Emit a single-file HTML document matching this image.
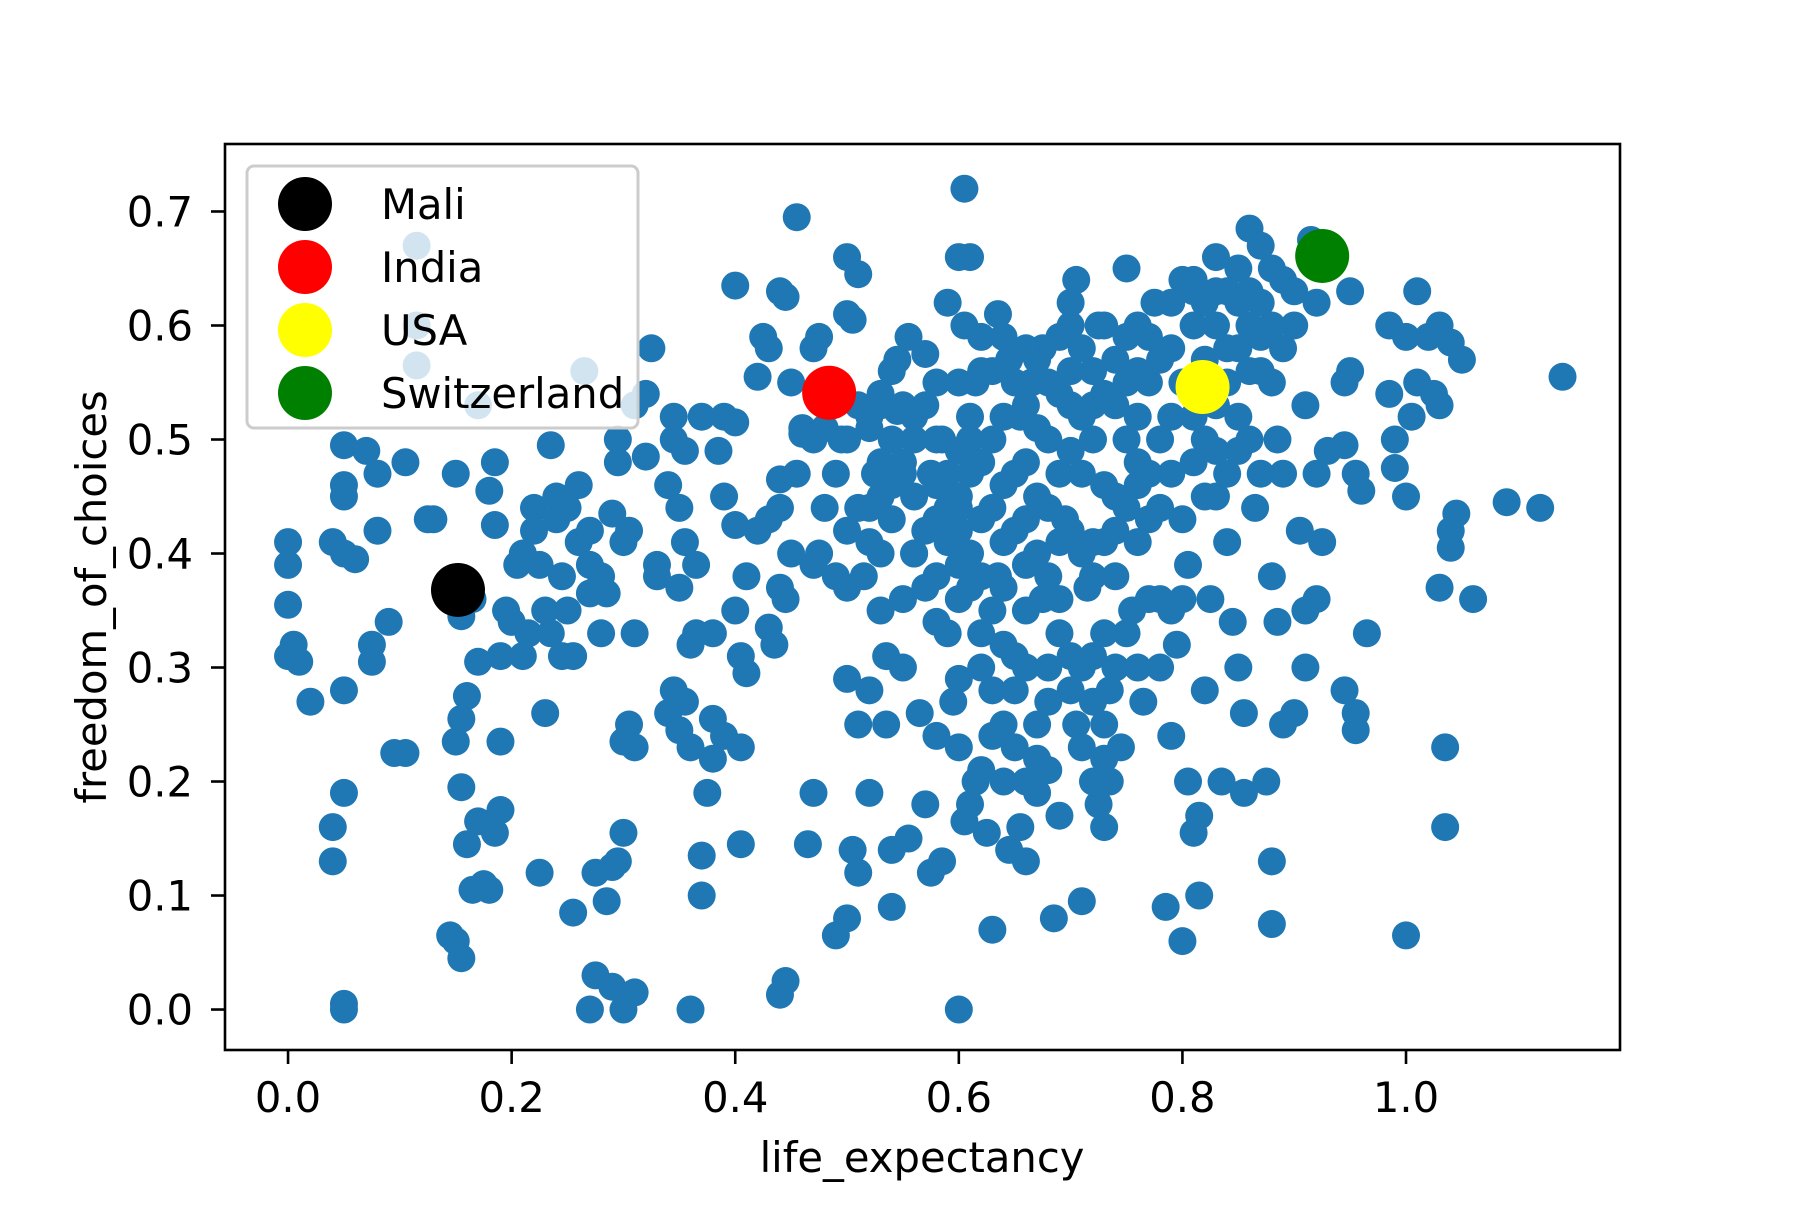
<!DOCTYPE html>
<html><head><meta charset="utf-8"><style>
html,body{margin:0;padding:0;background:#fff}
svg text{font-family:"DejaVu Sans","Liberation Sans",sans-serif;fill:#000}
</style></head><body>
<svg id="chart" width="1800" height="1200" viewBox="0 0 1800 1200" xmlns="http://www.w3.org/2000/svg">
<rect width="1800" height="1200" fill="#fff"/>
<g id="points"></g>
<g id="highlights"></g>
<rect x="225" y="144" width="1395" height="906" fill="none" stroke="#000" stroke-width="2.6"/>
<g id="xticks"></g>
<g id="yticks"></g>
<text x="922" y="1172" font-size="41.7" text-anchor="middle">life_expectancy</text>
<text x="0" y="0" font-size="41.7" text-anchor="middle" transform="translate(106,597) rotate(-90)">freedom_of_choices</text>
<g id="legend"></g>
</svg>
<script>
const xTicks=[0,0.2,0.4,0.6,0.8,1.0];
const xTickLabels=["0.0","0.2","0.4","0.6","0.8","1.0"];
const yTicks=[0,0.1,0.2,0.3,0.4,0.5,0.6,0.7];
const yTickLabels=["0.0","0.1","0.2","0.3","0.4","0.5","0.6","0.7"];
const countryNames=["Mali","India","USA","Switzerland"];
const countryColors=["#000000","#ff0000","#ffff00","#008000"];
const countryX=[0.152,0.484,0.818,0.925];
const countryY=[0.368,0.541,0.546,0.661];
const lifeExp=[0,0,0,0,0.005,0.01,0.02,0.04,0.04,0.04,0.05,0.05,0.05,0.05,0.05,0.05,0.05,0.05,0.06,0.07,0.08,0.08,0.075,0.075,0.09,0.095,0.105,0.105,0.115,0.115,0.115,0.125,0.13,0.145,0.15,0.155,0.15,0.155,0.16,0.155,0.16,0.165,0.17,0.175,0.18,0.185,0.19,0.15,0.155,0.165,0.17,0.17,0.18,0.185,0.185,0.19,0.19,0.195,0.2,0.205,0.21,0.21,0.215,0.22,0.22,0.225,0.225,0.23,0.23,0.235,0.235,0.24,0.24,0.245,0.245,0.25,0.25,0.255,0.255,0.26,0.26,0.265,0.27,0.27,0.27,0.27,0.275,0.275,0.28,0.28,0.285,0.285,0.29,0.29,0.29,0.295,0.295,0.295,0.3,0.3,0.3,0.3,0.305,0.305,0.31,0.31,0.31,0.31,0.32,0.32,0.325,0.33,0.33,0.34,0.34,0.345,0.345,0.345,0.35,0.35,0.35,0.355,0.355,0.355,0.36,0.36,0.36,0.365,0.365,0.37,0.37,0.37,0.375,0.38,0.38,0.38,0.385,0.39,0.39,0.39,0.4,0.4,0.4,0.4,0.405,0.405,0.405,0.41,0.41,0.42,0.42,0.425,0.43,0.43,0.43,0.435,0.44,0.44,0.44,0.44,0.445,0.44,0.445,0.445,0.45,0.45,0.455,0.455,0.46,0.46,0.465,0.47,0.47,0.47,0.475,0.475,0.48,0.49,0.49,0.495,0.5,0.5,0.5,0.5,0.5,0.5,0.505,0.505,0.51,0.51,0.51,0.51,0.515,0.52,0.52,0.52,0.52,0.525,0.53,0.53,0.53,0.535,0.535,0.54,0.54,0.545,0.545,0.55,0.55,0.55,0.555,0.555,0.56,0.56,0.565,0.57,0.57,0.575,0.575,0.58,0.58,0.58,0.585,0.585,0.59,0.59,0.59,0.595,0.6,0.6,0.6,0.6,0.6,0.605,0.605,0.605,0.61,0.61,0.61,0.615,0.615,0.62,0.62,0.625,0.63,0.63,0.635,0.635,0.64,0.64,0.645,0.645,0.65,0.65,0.655,0.655,0.66,0.66,0.665,0.67,0.67,0.675,0.675,0.68,0.68,0.685,0.69,0.69,0.695,0.7,0.7,0.7,0.705,0.705,0.71,0.71,0.715,0.72,0.72,0.725,0.725,0.73,0.735,0.735,0.74,0.74,0.745,0.75,0.75,0.755,0.76,0.76,0.765,0.77,0.775,0.78,0.785,0.79,0.79,0.795,0.8,0.8,0.8,0.805,0.805,0.81,0.81,0.815,0.815,0.82,0.82,0.825,0.83,0.83,0.83,0.835,0.84,0.84,0.845,0.85,0.85,0.85,0.855,0.855,0.86,0.86,0.865,0.87,0.87,0.875,0.88,0.88,0.88,0.885,0.885,0.89,0.89,0.89,0.9,0.9,0.905,0.91,0.91,0.91,0.915,0.92,0.92,0.92,0.925,0.93,0.945,0.945,0.945,0.95,0.95,0.955,0.955,0.955,0.96,0.965,0.985,0.985,0.99,0.99,1.0,1.0,1.0,1.005,1.01,1.01,1.02,1.025,1.03,1.03,1.03,1.035,1.035,1.04,1.04,1.04,1.045,1.05,1.06,1.09,1.12,1.14,
0.56,0.57,0.58,0.59,0.6,0.61,0.62,0.63,0.64,0.65,0.66,0.67,0.68,0.69,0.7,0.71,0.72,0.73,0.74,0.75,0.76,0.77,0.78,0.79,0.8,0.81,0.82,0.83,0.84,0.85,0.86,0.87,0.88,0.89,0.9,0.88,0.87,0.85,0.82,0.81,0.79,0.78,0.76,0.74,0.73,0.72,0.7,0.69,0.68,0.66,0.65,0.63,0.62,0.64,0.6,0.58,0.57,0.55,0.54,0.53,0.52,0.53,0.54,0.56,0.57,0.58,0.6,0.61,0.62,0.63,0.64,0.66,0.67,0.68,0.69,0.7,0.71,0.72,0.73,0.74,0.75,0.76,0.77,0.78,0.76,0.77,0.79,0.8,0.81,0.82,0.83,0.84,0.85,0.86,0.87,0.88,0.86,0.84,0.83,0.81,0.79,0.77,0.75,0.73,0.71,0.7,0.67,0.66,0.64,0.62,0.61,0.6,0.59,0.6,0.62,0.63,0.64,0.65,0.66,0.67,0.68,0.69,0.7,0.71,0.72,0.73,0.74,0.75,0.76,0.78,0.66,0.67,0.68,0.65,0.63,0.62,0.61,0.73,0.72,0.71,0.72,0.73,0.69,0.66,0.64,0.6,0.58,0.55,0.54,0.52,0.51,0.53,0.54,0.56,0.5,0.49,0.48,0.47];
const freedom=[0.41,0.39,0.355,0.31,0.32,0.305,0.27,0.16,0.13,0.41,0.40,0.495,0.46,0.45,0.28,0.19,0.005,0,0.395,0.49,0.47,0.42,0.32,0.305,0.34,0.225,0.225,0.48,0.67,0.6,0.565,0.43,0.43,0.065,0.06,0.045,0.235,0.255,0.275,0.195,0.145,0.105,0.165,0.11,0.105,0.155,0.175,0.47,0.345,0.36,0.305,0.53,0.455,0.48,0.425,0.31,0.235,0.35,0.34,0.39,0.40,0.31,0.33,0.44,0.42,0.39,0.12,0.26,0.35,0.33,0.495,0.45,0.43,0.38,0.31,0.44,0.35,0.31,0.085,0.46,0.41,0.56,0.42,0.39,0.365,0,0.03,0.12,0.33,0.38,0.365,0.095,0.125,0.02,0.435,0.5,0.48,0.13,0,0.155,0.235,0.41,0.42,0.25,0.23,0.015,0.33,0.53,0.485,0.54,0.58,0.39,0.38,0.26,0.46,0.52,0.5,0.28,0.37,0.245,0.44,0.49,0.41,0.27,0.32,0.23,0,0.39,0.33,0.52,0.1,0.135,0.19,0.33,0.255,0.22,0.49,0.52,0.45,0.24,0.515,0.425,0.635,0.35,0.31,0.23,0.145,0.295,0.38,0.42,0.555,0.59,0.58,0.43,0.335,0.32,0.44,0.37,0.465,0.013,0.025,0.63,0.625,0.36,0.4,0.55,0.695,0.47,0.51,0.505,0.145,0.19,0.39,0.58,0.59,0.40,0.44,0.38,0.065,0.5,0.66,0.61,0.42,0.37,0.29,0.08,0.14,0.605,0.645,0.44,0.25,0.12,0.38,0.41,0.28,0.19,0.52,0.47,0.54,0.45,0.35,0.31,0.25,0.09,0.14,0.525,0.57,0.48,0.36,0.30,0.15,0.59,0.5,0.4,0.26,0.18,0.575,0.47,0.12,0.55,0.38,0.24,0.5,0.13,0.62,0.44,0.33,0.27,0.66,0.42,0.29,0.23,0,0.72,0.6,0.165,0.66,0.52,0.37,0.55,0.2,0.48,0.33,0.155,0.44,0.07,0.61,0.38,0.25,0.2,0.57,0.14,0.47,0.31,0.52,0.16,0.39,0.13,0.55,0.45,0.22,0.58,0.36,0.5,0.27,0.08,0.17,0.59,0.43,0.62,0.53,0.31,0.64,0.25,0.47,0.095,0.37,0.56,0.41,0.6,0.18,0.16,0.28,0.2,0.45,0.38,0.23,0.65,0.55,0.35,0.6,0.48,0.27,0.43,0.62,0.36,0.09,0.52,0.24,0.32,0.64,0.43,0.06,0.39,0.2,0.155,0.6,0.1,0.17,0.5,0.28,0.36,0.63,0.45,0.53,0.2,0.58,0.41,0.34,0.65,0.49,0.3,0.19,0.26,0.685,0.6,0.44,0.67,0.56,0.2,0.38,0.13,0.075,0.5,0.34,0.64,0.47,0.25,0.6,0.26,0.42,0.53,0.3,0.35,0.675,0.62,0.47,0.36,0.41,0.49,0.495,0.28,0.55,0.63,0.56,0.47,0.26,0.245,0.455,0.33,0.6,0.54,0.5,0.475,0.45,0.59,0.065,0.52,0.63,0.55,0.59,0.54,0.6,0.37,0.53,0.23,0.16,0.585,0.42,0.405,0.435,0.57,0.36,0.445,0.44,0.555,
0.45,0.42,0.46,0.41,0.44,0.47,0.43,0.5,0.46,0.42,0.48,0.51,0.44,0.47,0.49,0.52,0.5,0.46,0.53,0.5,0.52,0.55,0.5,0.47,0.55,0.52,0.57,0.6,0.55,0.58,0.63,0.62,0.6,0.58,0.63,0.65,0.59,0.62,0.62,0.63,0.58,0.57,0.56,0.57,0.54,0.53,0.56,0.54,0.55,0.53,0.55,0.56,0.59,0.52,0.55,0.5,0.53,0.53,0.5,0.48,0.44,0.4,0.43,0.4,0.37,0.34,0.36,0.4,0.38,0.35,0.41,0.43,0.4,0.38,0.41,0.42,0.4,0.38,0.41,0.42,0.44,0.46,0.47,0.44,0.41,0.36,0.35,0.36,0.48,0.45,0.49,0.47,0.52,0.5,0.47,0.55,0.56,0.63,0.66,0.64,0.62,0.59,0.59,0.6,0.58,0.6,0.57,0.58,0.59,0.56,0.5,0.49,0.47,0.39,0.3,0.28,0.32,0.28,0.3,0.25,0.3,0.33,0.28,0.3,0.27,0.25,0.3,0.33,0.3,0.3,0.2,0.19,0.21,0.23,0.24,0.21,0.18,0.22,0.2,0.23,0.31,0.33,0.36,0.35,0.37,0.45,0.43,0.47,0.46,0.51,0.53,0.53,0.56,0.52,0.5,0.47,0.51,0.5];
const lightPts=[[0.115,0.67],[0.115,0.6],[0.115,0.565],[0.17,0.53],[0.265,0.56],[0.31,0.53]];

const NS="http://www.w3.org/2000/svg";
const L=225,R=1620,T=144,B=1050;
const xMin=-0.0564,xMax=1.1914,yMin=-0.0355,yMax=0.7592;
function xs(v){return L+(v-xMin)/(xMax-xMin)*(R-L);}
function ys(v){return B-(v-yMin)/(yMax-yMin)*(B-T);}
function mk(tag,attrs,parent){const e=document.createElementNS(NS,tag);for(const k in attrs)e.setAttribute(k,attrs[k]);parent.appendChild(e);return e;}

const pg=document.getElementById('points');
for(let i=0;i<lifeExp.length;i++){
  const c=mk('circle',{cx:xs(lifeExp[i]),cy:ys(freedom[i]),r:14,fill:'#1f77b4'},pg);
  
  
}
const hg=document.getElementById('highlights');
for(let i=0;i<countryNames.length;i++){
  const c=mk('circle',{cx:xs(countryX[i]),cy:ys(countryY[i]),r:27,fill:countryColors[i]},hg);
  
  
}
const xg=document.getElementById('xticks');
for(let i=0;i<xTicks.length;i++){
  const x=xs(xTicks[i]);
  const t=mk('line',{x1:x,x2:x,y1:B,y2:B+14,stroke:'#000','stroke-width':2.6},xg);
  
  
  const s=mk('text',{x:x,y:1112,'font-size':41.7,'text-anchor':'middle'},xg);
  s.textContent=xTickLabels[i];
  
  
}
const yg=document.getElementById('yticks');
for(let i=0;i<yTicks.length;i++){
  const y=ys(yTicks[i]);
  const t=mk('line',{x1:L-14,x2:L,y1:y,y2:y,stroke:'#000','stroke-width':2.6},yg);
  
  
  const s=mk('text',{x:193,y:y+15,'font-size':41.7,'text-anchor':'end'},yg);
  s.textContent=yTickLabels[i];
  
  
}
const lg=document.getElementById('legend');
const box=mk('rect',{x:247,y:166,width:391,height:262,rx:7,fill:'rgba(255,255,255,0.8)',stroke:'#cccccc','stroke-width':3},lg);


for(let i=0;i<countryNames.length;i++){
  const y=204+i*63;
  const c=mk('circle',{cx:305,cy:y,r:27,fill:countryColors[i]},lg);
  
  
  const s=mk('text',{x:381,y:y+15,'font-size':41.7},lg);
  s.textContent=countryNames[i];
  
  
}
</script>
</body></html>
